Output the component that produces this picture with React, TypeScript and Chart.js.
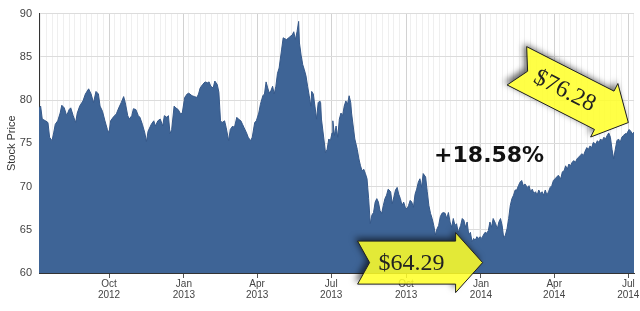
import { useEffect, useRef } from 'react';
import { Chart, registerables } from 'chart.js';

Chart.register(...registerables);

// Days counted from 7 Jul 2012 (left edge of the plot)
const START = Date.UTC(2012, 6, 7);
const dayOf = (y: number, m: number, d: number) => Math.round((Date.UTC(y, m - 1, d) - START) / 86400000);
const X_MAX = dayOf(2014, 7, 8);

const dayOffsets = [
  0, 2, 4, 8, 11, 13, 16, 18, 20, 23,
  26, 28, 31, 34, 37, 39, 42, 45, 47, 50,
  54, 57, 61, 64, 67, 70, 73, 75, 78, 81,
  84, 86, 88, 91, 95, 98, 101, 104, 106, 109,
  111, 114, 116, 119, 122, 124, 127, 130, 132, 134,
  138, 141, 143, 146, 149, 152, 154, 157, 159, 161,
  163, 166, 168, 171, 174, 176, 179, 182, 184, 188,
  191, 194, 196, 198, 201, 204, 207, 209, 211, 214,
  216, 219, 221, 223, 225, 228, 230, 233, 235, 238,
  240, 243, 245, 248, 250, 252, 255, 257, 260, 262,
  265, 267, 270, 272, 275, 277, 279, 281, 283, 285,
  287, 289, 291, 293, 295, 298, 300, 302, 304, 307,
  309, 311, 313, 315, 317, 319, 320, 322, 324, 326,
  328, 330, 332, 334, 335, 337, 339, 341, 343, 345,
  346, 347, 350, 352, 354, 356, 358, 360, 361, 363,
  365, 367, 369, 371, 373, 375, 377, 379, 381, 383,
  384, 386, 388, 391, 393, 395, 397, 399, 401, 403,
  405, 407, 409, 411, 413, 415, 417, 419, 421, 423,
  425, 427, 429, 432, 434, 436, 438, 440, 442, 444,
  446, 448, 450, 452, 454, 456, 458, 460, 462, 464,
  466, 468, 470, 472, 475, 477, 479, 481, 483, 485,
  487, 489, 491, 493, 495, 497, 499, 501, 503, 505,
  507, 509, 511, 513, 515, 518, 520, 522, 524, 526,
  528, 530, 532, 534, 536, 538, 540, 542, 544, 546,
  548, 550, 552, 554, 556, 558, 561, 563, 565, 567,
  569, 571, 573, 575, 577, 579, 581, 583, 585, 587,
  589, 591, 593, 595, 597, 600, 602, 604, 606, 608,
  610, 612, 614, 616, 618, 620, 622, 624, 626, 628,
  630, 632, 634, 636, 638, 641, 643, 645, 647, 649,
  651, 653, 655, 657, 659, 661, 663, 665, 667, 669,
  671, 673, 675, 677, 679, 681, 684, 686, 688, 690,
  692, 694, 696, 698, 700, 702, 704, 706, 708, 710,
  712, 714, 716, 718, 720, 722, 725, 727, 729, 731,
];

const prices = [
  79.1, 79.3, 77.8, 77.6, 77.4, 75.7, 75.3, 76.2, 77.2, 77.6,
  78.5, 79.4, 79.1, 78.2, 78.9, 79.1, 78.2, 77.4, 78.5, 79.3,
  79.9, 80.7, 81.3, 80.7, 79.7, 81.0, 80.7, 79.3, 78.7, 77.6,
  76.6, 76.2, 77.6, 78.0, 78.4, 79.1, 79.7, 80.4, 79.7, 78.2,
  77.8, 78.2, 79.0, 78.9, 78.2, 78.0, 77.2, 76.2, 75.2, 76.4,
  77.2, 77.6, 77.0, 77.6, 77.8, 77.0, 78.2, 78.0, 78.2, 76.1,
  76.6, 79.3, 79.1, 78.9, 78.4, 78.5, 80.3, 80.7, 80.8, 80.5,
  80.4, 80.3, 80.7, 81.4, 81.8, 82.1, 82.0, 82.1, 81.6, 81.4,
  82.2, 81.8, 80.9, 77.6, 77.4, 77.6, 76.8, 75.3, 76.6, 77.0,
  76.8, 78.0, 77.8, 77.6, 77.2, 76.8, 76.2, 75.7, 75.3, 75.7,
  77.4, 77.6, 78.5, 79.5, 80.5, 80.7, 82.1, 81.4, 80.8, 81.1,
  81.6, 80.7, 81.6, 83.1, 83.7, 85.8, 87.2, 87.1, 87.0, 87.2,
  87.4, 87.5, 87.9, 87.0, 87.9, 89.1, 86.6, 85.2, 84.1, 83.5,
  82.8, 81.6, 80.5, 79.3, 81.0, 80.7, 79.3, 77.8, 79.7, 79.9,
  79.7, 77.8, 75.5, 73.9, 74.3, 75.5, 75.3, 76.2, 77.6, 75.9,
  77.0, 75.7, 77.8, 78.5, 78.2, 79.3, 79.9, 79.5, 80.5, 79.7,
  78.5, 77.0, 75.5, 74.3, 73.2, 72.4, 71.8, 72.0, 71.5, 70.9,
  68.6, 65.7, 66.7, 67.0, 68.2, 68.6, 68.2, 67.2, 66.9, 67.8,
  68.6, 69.0, 69.7, 69.4, 68.0, 68.8, 69.6, 69.9, 69.1, 68.6,
  67.8, 68.2, 67.6, 67.4, 67.8, 68.4, 68.2, 67.6, 69.1, 69.7,
  70.5, 70.9, 69.9, 71.5, 71.1, 69.4, 67.8, 66.9, 66.3, 65.5,
  64.4, 65.1, 65.5, 66.5, 66.9, 67.0, 66.9, 66.3, 67.0, 65.9,
  65.3, 66.3, 65.5, 65.7, 64.7, 65.5, 66.3, 66.1, 65.3, 65.9,
  64.4, 64.7, 63.6, 64.0, 63.8, 64.2, 64.0, 64.2, 64.0, 64.4,
  64.7, 64.6, 64.9, 65.9, 65.3, 66.3, 65.7, 65.1, 65.9, 66.3,
  65.5, 64.0, 64.4, 65.1, 66.3, 67.8, 68.6, 69.0, 69.6, 69.6,
  70.1, 70.5, 70.7, 70.1, 70.3, 69.9, 70.1, 69.4, 69.7, 69.2,
  69.4, 69.0, 69.6, 69.2, 69.4, 69.0, 69.6, 69.0, 69.4, 69.9,
  70.1, 70.7, 70.9, 71.1, 71.3, 70.9, 71.7, 71.8, 72.4, 72.0,
  72.6, 72.4, 72.8, 73.0, 72.8, 73.2, 73.4, 73.6, 73.8, 73.6,
  74.1, 74.5, 74.3, 74.7, 74.5, 75.1, 74.9, 75.3, 75.1, 75.5,
  75.3, 75.7, 75.5, 75.9, 76.2, 75.7, 74.3, 73.2, 74.3, 75.3,
  75.5, 75.1, 75.7, 75.9, 76.1, 76.1, 76.6, 76.4, 76.1, 76.28,
];

// Quarter tick labels
const tickMonths = ['Oct', 'Jan', 'Apr', 'Jul', 'Oct', 'Jan', 'Apr', 'Jul'];
const tickYears = [2012, 2013, 2013, 2013, 2013, 2014, 2014, 2014];
const monthNumber: Record<string, number> = { Jan: 1, Apr: 4, Jul: 7, Oct: 10 };

const Y_MIN = 60;
const Y_MAX = 90;
const Y_STEP = 5;

// Annotations
const startLabel = '$64.29';
const endLabel = '$76.28';
const changeLabel = '+18.58%';

const AREA_COLOR = '#3e6496';

export default function App() {
  const ref = useRef<HTMLCanvasElement>(null);

  useEffect(() => {
    document.body.style.margin = '0';
    const canvas = ref.current!;

    const majorDays = tickMonths.map((m, i) => dayOf(tickYears[i], monthNumber[m], 1));
    const majorLabel = new Map<number, string[]>();
    majorDays.forEach((d, i) => majorLabel.set(d, [tickMonths[i], String(tickYears[i])]));
    const minorDays: number[] = [];
    for (let d = 2; d < X_MAX; d += 7) minorDays.push(d);
    const allTicks = Array.from(new Set([...minorDays, ...majorDays]))
      .filter((d) => !majorDays.some((m) => m !== d && Math.abs(m - d) < 2))
      .sort((a, b) => a - b);

    const annotationPlugin = {
      id: 'annotations',
      afterDraw(chart: any) {
        const ctx: CanvasRenderingContext2D = chart.ctx;
        const xs = chart.scales.x;
        const ys = chart.scales.y;
        const L = 125, BODY = 43, HEAD = 60, HL = 27, NOTCH = 12;

        const addArrow = (tx: number, ty: number, ang: number) => {
          const pts = [
            [0, 0], [-HL, -HEAD / 2], [-HL, -BODY / 2], [-L, -BODY / 2],
            [-L + NOTCH, 0], [-L, BODY / 2], [-HL, BODY / 2], [-HL, HEAD / 2],
          ];
          const c = Math.cos(ang), s = Math.sin(ang);
          pts.forEach(([px, py], i) => {
            const X = tx + px * c - py * s;
            const Y = ty + px * s + py * c;
            if (i === 0) ctx.moveTo(X, Y); else ctx.lineTo(X, Y);
          });
          ctx.closePath();
        };

        const drawArrow = (tx: number, ty: number, ang: number, text: string) => {
          // shadow only outside the shape
          ctx.save();
          ctx.beginPath();
          ctx.rect(0, 0, chart.width, chart.height);
          addArrow(tx, ty, ang);
          ctx.clip('evenodd');
          ctx.beginPath();
          addArrow(tx, ty, ang);
          ctx.shadowColor = 'rgba(0,0,0,0.6)';
          ctx.shadowBlur = 6;
          ctx.shadowOffsetX = -3;
          ctx.shadowOffsetY = -3;
          ctx.fillStyle = '#000';
          ctx.fill();
          ctx.restore();

          ctx.save();
          ctx.beginPath();
          addArrow(tx, ty, ang);
          ctx.fillStyle = 'rgba(255,255,40,0.86)';
          ctx.fill();
          ctx.strokeStyle = '#222';
          ctx.lineWidth = 1;
          ctx.stroke();
          ctx.translate(tx, ty);
          ctx.rotate(ang);
          ctx.font = '24px "Liberation Serif", "Times New Roman", serif';
          ctx.fillStyle = '#222';
          ctx.textAlign = 'center';
          ctx.textBaseline = 'middle';
          ctx.fillText(text, -71, 1);
          ctx.restore();
        };

        drawArrow(xs.getPixelForValue(dayOf(2014, 1, 3)), ys.getPixelForValue(61.2), 0, startLabel);
        drawArrow(xs.getPixelForValue(dayOf(2014, 7, 1)), ys.getPixelForValue(77.4), (27 * Math.PI) / 180, endLabel);

        ctx.save();
        ctx.font = 'bold 22px "DejaVu Sans", Verdana, sans-serif';
        ctx.fillStyle = '#111';
        ctx.textAlign = 'center';
        ctx.textBaseline = 'middle';
        ctx.fillText(changeLabel, xs.getPixelForValue(dayOf(2014, 1, 11)), ys.getPixelForValue(73.5));
        ctx.restore();
      },
    };

    Chart.defaults.font.family = 'Arial, "Liberation Sans", sans-serif';

    const chart = new Chart(canvas, {
      type: 'line',
      data: {
        datasets: [
          {
            data: dayOffsets.map((d, i) => ({ x: d, y: prices[i] })),
            backgroundColor: AREA_COLOR,
            borderColor: '#36598a',
            borderWidth: 1,
            fill: 'start',
            pointRadius: 0,
            tension: 0,
          },
        ],
      },
      options: {
        responsive: false,
        animation: false,
        devicePixelRatio: 1,
        layout: { padding: { top: 12, right: 6, left: 0, bottom: 0 } },
        plugins: { legend: { display: false }, tooltip: { enabled: false } },
        scales: {
          x: {
            type: 'linear',
            min: 0,
            max: X_MAX,
            afterBuildTicks: (scale: any) => {
              scale.ticks = allTicks.map((v) => ({ value: v }));
            },
            afterFit: (scale: any) => {
              scale.height = 38;
            },
            ticks: {
              autoSkip: false,
              maxRotation: 0,
              minRotation: 0,
              padding: 1,
              color: '#444',
              font: { size: 10, lineHeight: 1.1 },
              callback: (value: any) => majorLabel.get(Number(value)) ?? '',
            },
            grid: {
              color: (ctx: any) => (ctx.tick && majorLabel.has(ctx.tick.value) ? '#d2d2d2' : '#efefef'),
              tickColor: (ctx: any) => (ctx.tick && majorLabel.has(ctx.tick.value) ? '#555' : 'rgba(0,0,0,0)'),
              tickLength: 5,
              lineWidth: 1,
            },
            border: { display: true, color: '#333', width: 1 },
          },
          y: {
            min: Y_MIN,
            max: Y_MAX,
            afterFit: (scale: any) => {
              scale.width = 39;
            },
            ticks: { stepSize: Y_STEP, color: '#444', font: { size: 11 }, padding: 7 },
            grid: { color: '#dcdcdc', drawTicks: false, lineWidth: 1 },
            border: { display: true, color: '#333', width: 1 },
            title: {
              display: true,
              text: 'Stock Price',
              color: '#333',
              font: { size: 11 },
              padding: { top: 5, bottom: 0 },
            },
          },
        },
      },
      plugins: [annotationPlugin],
    } as any);

    return () => chart.destroy();
  }, []);

  return (
    <div style={{ position: 'fixed', left: 0, top: 0, width: 640, height: 311, background: '#fff' }}>
      <canvas ref={ref} width={640} height={311} style={{ display: 'block', width: 640, height: 311 }} />
    </div>
  );
}
